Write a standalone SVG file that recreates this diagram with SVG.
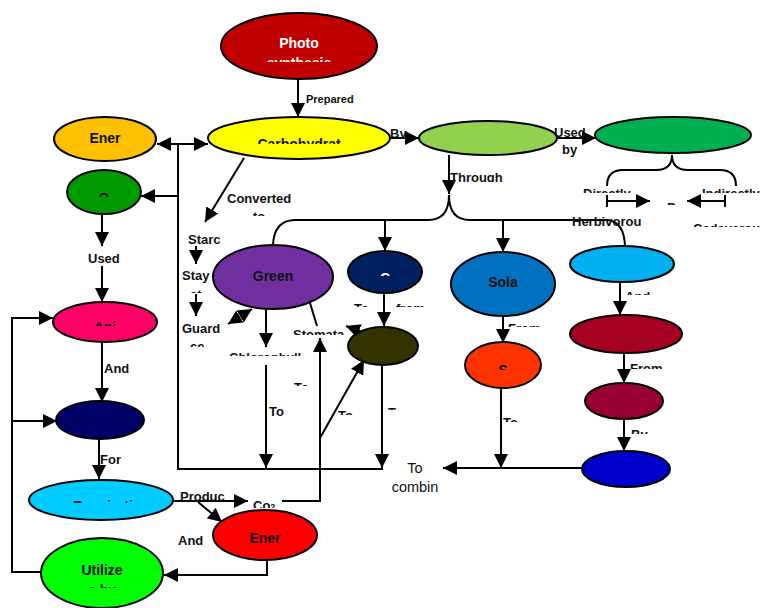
<svg xmlns="http://www.w3.org/2000/svg" width="760" height="608" viewBox="0 0 760 608">
<style>
.e{stroke:#000;stroke-width:2}
.c{fill:none;stroke:#000;stroke-width:2}
.ar{marker-end:url(#ah)}
.n{font-family:"Liberation Sans",Arial,sans-serif;font-weight:bold;font-size:14px;text-anchor:middle;fill:#111}
.w{fill:#fff}
.l{font-family:"Liberation Sans",Arial,sans-serif;font-weight:bold;font-size:13px;fill:#111}
.r{font-family:"Liberation Sans",Arial,sans-serif;font-size:14.5px;text-anchor:middle;fill:#111}
</style>
<defs>
<marker id="ah" viewBox="0 0 14 14" refX="14" refY="7" markerWidth="14" markerHeight="14" markerUnits="userSpaceOnUse" orient="auto-start-reverse"><path d="M0,0 L14,7 L0,14 z" fill="#000"/></marker>
<clipPath id="k62"><rect x="0" y="32" width="760" height="30"/></clipPath>
<clipPath id="k144"><rect x="0" y="114" width="760" height="30"/></clipPath>
<clipPath id="k197"><rect x="0" y="167" width="760" height="30"/></clipPath>
<clipPath id="k326"><rect x="0" y="296" width="760" height="30"/></clipPath>
<clipPath id="k503"><rect x="0" y="473" width="760" height="30"/></clipPath>
<clipPath id="k588"><rect x="0" y="558" width="760" height="30"/></clipPath>
<clipPath id="k276"><rect x="0" y="246" width="760" height="30"/></clipPath>
<clipPath id="k370"><rect x="0" y="340" width="760" height="30"/></clipPath>
<clipPath id="k137"><rect x="0" y="107" width="760" height="30"/></clipPath>
<clipPath id="k182"><rect x="0" y="152" width="760" height="30"/></clipPath>
<clipPath id="k216"><rect x="0" y="186" width="760" height="30"/></clipPath>
<clipPath id="k293"><rect x="0" y="263" width="760" height="30"/></clipPath>
<clipPath id="k347"><rect x="0" y="317" width="760" height="30"/></clipPath>
<clipPath id="k356"><rect x="0" y="326" width="760" height="30"/></clipPath>
<clipPath id="k335"><rect x="0" y="305" width="760" height="30"/></clipPath>
<clipPath id="k386"><rect x="0" y="356" width="760" height="30"/></clipPath>
<clipPath id="k415"><rect x="0" y="385" width="760" height="30"/></clipPath>
<clipPath id="k410"><rect x="0" y="380" width="760" height="30"/></clipPath>
<clipPath id="k307"><rect x="0" y="277" width="760" height="30"/></clipPath>
<clipPath id="k327"><rect x="0" y="297" width="760" height="30"/></clipPath>
<clipPath id="k295"><rect x="0" y="265" width="760" height="30"/></clipPath>
<clipPath id="k369"><rect x="0" y="339" width="760" height="30"/></clipPath>
<clipPath id="k434"><rect x="0" y="404" width="760" height="30"/></clipPath>
<clipPath id="k422"><rect x="0" y="392" width="760" height="30"/></clipPath>
<clipPath id="k508"><rect x="0" y="478" width="760" height="30"/></clipPath>
<clipPath id="k193"><rect x="0" y="163" width="760" height="30"/></clipPath>
<clipPath id="k205"><rect x="0" y="175" width="760" height="30"/></clipPath>
<clipPath id="k227"><rect x="0" y="197" width="760" height="30"/></clipPath>
</defs>
<rect width="760" height="608" fill="#fff"/>

<g id="connectors">
<line class="c ar" x1="298" y1="79" x2="298" y2="117"/>
<line class="c ar" x1="390" y1="138" x2="419" y2="138"/>
<line class="c ar" x1="557" y1="138" x2="596" y2="138"/>
<line class="c ar" x1="178" y1="144" x2="157" y2="144"/>
<line class="c ar" x1="178" y1="144" x2="208" y2="144"/>
<line class="c ar" x1="178" y1="196" x2="141" y2="196"/>
<polyline class="c" points="178,144 178,469 383,469"/>
<line class="c ar" x1="449" y1="155" x2="449" y2="194"/>
<path class="c" d="M449,195 Q449,220 428,220 L294,220 Q274,221 273,245"/>
<path class="c" d="M449,195 Q449,220 470,220 L608,220 Q624,222 625,246"/>
<line class="c ar" x1="385" y1="220" x2="385" y2="251"/>
<line class="c ar" x1="503" y1="220" x2="503" y2="252"/>
<path class="c" d="M607,186 Q607,170 623,170 L656,170 Q672,170 672,155 Q672,170 688,170 L720,170 Q736,170 736,186"/>
<line class="c" x1="607" y1="195" x2="607" y2="207"/>
<line class="c ar" x1="607" y1="201" x2="650" y2="201"/>
<line class="c" x1="725" y1="195" x2="725" y2="207"/>
<line class="c ar" x1="725" y1="201" x2="687" y2="201"/>
<line class="c ar" x1="244" y1="158" x2="205" y2="222"/>
<line class="c ar" x1="196" y1="246" x2="196" y2="264"/>
<line class="c ar" x1="196" y1="294" x2="196" y2="316"/>
<line class="c ar" x1="252" y1="309" x2="228" y2="324" style="marker-start:url(#ah)"/>
<line class="c ar" x1="266" y1="309" x2="266" y2="347"/>
<line class="c" x1="310" y1="303" x2="317" y2="326"/>
<line class="c ar" x1="362" y1="332" x2="346" y2="326"/>
<line class="c ar" x1="384" y1="293" x2="384" y2="326"/>
<line class="c ar" x1="266" y1="365" x2="266" y2="468"/>
<line class="c ar" x1="382" y1="365" x2="382" y2="468"/>
<polyline class="c ar" points="282,501 320,501 320,338"/>
<line class="c ar" x1="320" y1="438" x2="364" y2="360"/>
<line class="c ar" x1="503" y1="316" x2="503" y2="343"/>
<line class="c ar" x1="501" y1="389" x2="501" y2="468"/>
<line class="c ar" x1="582" y1="468" x2="443" y2="468"/>
<line class="c ar" x1="620" y1="282" x2="620" y2="315"/>
<line class="c ar" x1="624" y1="353" x2="624" y2="383"/>
<line class="c ar" x1="624" y1="419" x2="624" y2="451"/>
<line class="c ar" x1="102" y1="214" x2="102" y2="246"/>
<line class="c ar" x1="102" y1="266" x2="102" y2="302"/>
<line class="c ar" x1="102" y1="342" x2="102" y2="402"/>
<line class="c ar" x1="99" y1="439" x2="99" y2="479"/>
<polyline class="c" points="41,572 12,572 12,318"/>
<line class="c ar" x1="11" y1="318" x2="53" y2="318"/>
<line class="c ar" x1="12" y1="421" x2="57" y2="421"/>
<line class="c ar" x1="172" y1="501" x2="248" y2="501"/>
<line class="c ar" x1="198" y1="502" x2="222" y2="522"/>
<polyline class="c ar" points="267,560 267,575 164,575"/>
</g>

<g id="labels">
<text class="l" x="306" y="103" style="font-size:11px">Prepared</text>
<text class="l" x="390" y="137.5" clip-path="url(#k137)">By</text>
<text class="l" x="554" y="136.5" clip-path="url(#k137)">Used</text>
<text class="l" x="562" y="154">by</text>
<text class="l" x="450" y="181.5" clip-path="url(#k182)">Through</text>
<text class="l" x="227" y="203">Converted</text>
<text class="l" x="253" y="221" clip-path="url(#k216)">to</text>
<text class="l" x="188" y="244">Starc</text>
<text class="l" x="182" y="280">Stay</text>
<text class="l" x="190" y="299" clip-path="url(#k293)">at</text>
<text class="l" x="182" y="333">Guard</text>
<text class="l" x="190" y="351" clip-path="url(#k347)">ce</text>
<text class="l" x="229" y="362" clip-path="url(#k356)">Chlorophyll</text>
<text class="l" x="293" y="339" clip-path="url(#k335)">Stomata</text>
<text class="l" x="269" y="416">To</text>
<text class="l" x="294" y="392" clip-path="url(#k386)">To</text>
<text class="l" x="338" y="420" clip-path="url(#k415)">To</text>
<text class="l" x="388" y="417" clip-path="url(#k410)">To</text>
<text class="l" x="354" y="313" clip-path="url(#k307)">To</text>
<text class="l" x="396" y="313" clip-path="url(#k307)">from</text>
<text class="l" x="508" y="333" clip-path="url(#k327)">From</text>
<text class="l" x="625" y="301" clip-path="url(#k295)">And</text>
<text class="l" x="630" y="373" clip-path="url(#k369)">From</text>
<text class="l" x="631" y="439" clip-path="url(#k434)">By</text>
<text class="l" x="503" y="427" clip-path="url(#k422)">To</text>
<text class="l" x="88" y="263">Used</text>
<text class="l" x="104" y="373">And</text>
<text class="l" x="100" y="464">For</text>
<text class="l" x="180" y="501">Produc</text>
<text class="l" x="253" y="510" clip-path="url(#k508)">Co<tspan style="font-size:9px">2</tspan></text>
<text class="l" x="178" y="545">And</text>
<text class="l" x="583" y="198" clip-path="url(#k193)">Directly</text>
<text class="l" x="702" y="198" clip-path="url(#k193)">Indirectly</text>
<text class="l" x="667" y="212" clip-path="url(#k205)">P</text>
<text class="l" x="572" y="226">Herbivorou</text>
<text class="l" x="693" y="233" clip-path="url(#k227)">Cadaverou</text>
<text class="r" x="415" y="473">To</text>
<text class="r" x="415" y="492">combin</text>
</g>

<g id="photosynthesis"><ellipse class="e" cx="299" cy="46" rx="78" ry="33" fill="#C00000"/><text class="n w" x="299" y="48">Photo</text><text class="n w" x="299" y="68" clip-path="url(#k62)">synthesis</text></g>
<g id="carbohydrate"><ellipse class="e" cx="299" cy="138" rx="91" ry="21" fill="#FFFF00"/><text class="n" x="299" y="149" clip-path="url(#k144)">Carbohydrat</text></g>
<g id="leaf"><ellipse class="e" cx="488" cy="138" rx="69" ry="17" fill="#92D050"/></g>
<g id="producers"><ellipse class="e" cx="673" cy="135" rx="78" ry="18" fill="#00B050"/></g>
<g id="energy1"><ellipse class="e" cx="105" cy="139" rx="51" ry="22" fill="#FFC000"/><text class="n" x="105" y="143">Ener</text></g>
<g id="oxygen"><ellipse class="e" cx="104" cy="192" rx="37" ry="22" fill="#009A00"/><text class="n" x="104" y="203" clip-path="url(#k197)">O</text></g>
<g id="animals"><ellipse class="e" cx="105" cy="322" rx="52" ry="20" fill="#FF0066"/><text class="n" x="105" y="332" clip-path="url(#k326)">Ani</text></g>
<g id="navy1"><ellipse class="e" cx="100" cy="420" rx="44" ry="19" fill="#000066"/></g>
<g id="respiration"><ellipse class="e" cx="101" cy="500" rx="72" ry="20" fill="#00CCFF"/><text class="n" x="73" y="511" style="text-anchor:start" clip-path="url(#k503)">Respiration</text></g>
<g id="utilizes"><ellipse class="e" cx="102" cy="573" rx="61" ry="35" fill="#00FF00"/><text class="n" x="102" y="575">Utilize</text><text class="n" x="102" y="595" clip-path="url(#k588)">s by</text></g>
<g id="energy2"><ellipse class="e" cx="265" cy="535" rx="52" ry="25" fill="#FF0000"/><text class="n" x="265" y="543">Ener</text></g>
<g id="green"><ellipse class="e" cx="273" cy="277" rx="60" ry="32" fill="#7030A0"/><text class="n" x="273" y="281">Green</text></g>
<g id="navy2"><ellipse class="e" cx="385" cy="272" rx="37" ry="21" fill="#002060"/><text class="n w" x="385" y="283" clip-path="url(#k276)">C</text></g>
<g id="olive"><ellipse class="e" cx="383" cy="346" rx="35" ry="19" fill="#333300"/></g>
<g id="solar"><ellipse class="e" cx="503" cy="284" rx="52" ry="32" fill="#0070C0"/><text class="n" x="503" y="287">Sola</text></g>
<g id="s-node"><ellipse class="e" cx="503" cy="365" rx="38" ry="23" fill="#FF3300"/><text class="n" x="503" y="375" clip-path="url(#k370)">S</text></g>
<g id="lightblue"><ellipse class="e" cx="622" cy="264" rx="52" ry="18" fill="#00B0F0"/></g>
<g id="crimson1"><ellipse class="e" cx="626" cy="334" rx="56" ry="19" fill="#A50021"/></g>
<g id="crimson2"><ellipse class="e" cx="624" cy="401" rx="39" ry="18" fill="#990033"/></g>
<g id="blue"><ellipse class="e" cx="626" cy="469" rx="44" ry="18" fill="#0000CC"/></g>
</svg>
